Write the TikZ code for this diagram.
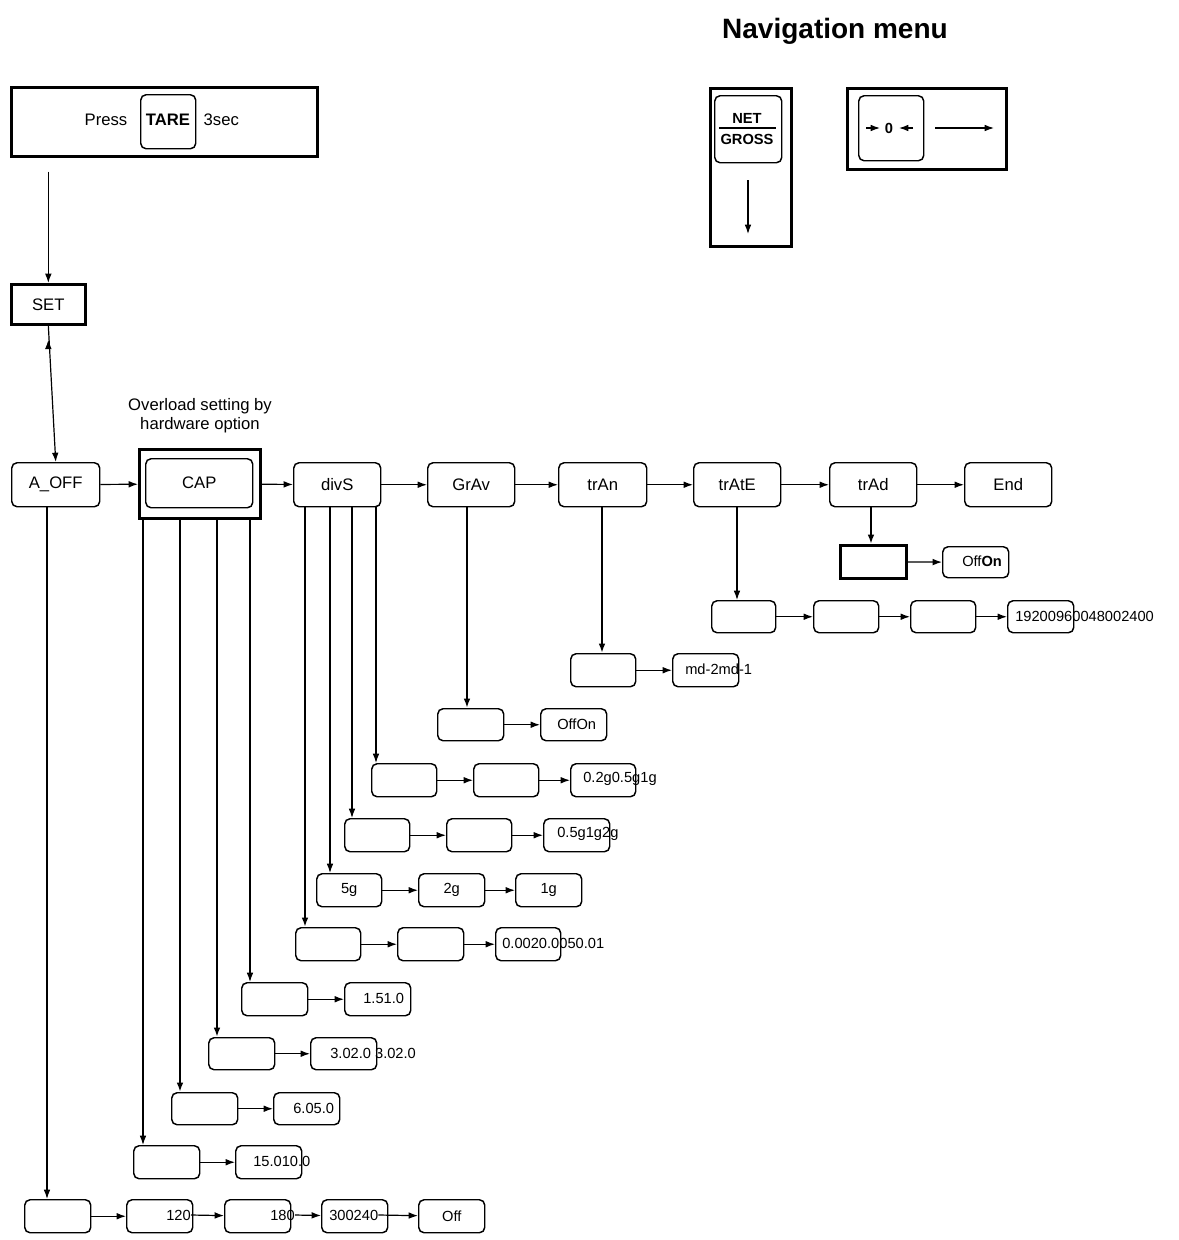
\documentclass[tikz,border=0pt]{standalone}
\usepackage{fontspec}
\setmainfont{Liberation Sans}
\usetikzlibrary{arrows.meta}
\begin{document}
\begin{tikzpicture}[x=0.75pt,y=-0.75pt,
  bx/.style={draw,rounded corners=4pt,line width=1.1pt,inner sep=0pt},
  tk/.style={draw,line width=2pt,inner sep=0pt},
  arr/.style={-{Latex[length=7pt,width=5pt]},line width=0.9pt},
  tarr/.style={-{Latex[length=7pt,width=5pt]},line width=1.6pt},
  lbl/.style={inner sep=0pt,font=\fontsize{11}{13}\selectfont},
  mtxt/.style={font=\fontsize{12.5}{14}\selectfont}]
\useasboundingbox (0,0) rectangle (1179,1240);
\newcommand\bx[6][bx]{\node[#1,minimum width={(#5-#3)*0.75pt},minimum height={(#6-#4)*0.75pt},anchor=north west] (#2) at (#3,#4) {};}
% header
\node[font=\bfseries\fontsize{21}{24}\selectfont] (nav) at (835,31) {Navigation menu};
\bx[tk]{press}{10}{86}{316}{155}
\node[mtxt,anchor=west] (presst) at (80,120) {Press};
\bx{tare}{140}{94}{195}{148}
\node[mtxt,font=\bfseries\fontsize{12.5}{14}\selectfont] (taret) at (168,120) {TARE};
\node[mtxt,anchor=west] (sec) at (199,120) {3sec};
\bx[tk]{set}{10}{283}{84}{323}
\node[mtxt] (sett) at (set) {SET};
\draw[arr] (press.south -| set) ++(0,14) coordinate (p0) -- (set.north);
\draw[arr] (set.south) ++(0,14) coordinate (s0);
% nav boxes
\bx[tk]{ng}{709}{87}{790}{245}
\bx{ngk}{714}{95}{781}{162}
\node[font=\bfseries\fontsize{11}{12}\selectfont] (net) at (747,118) {NET};
\node[font=\bfseries\fontsize{11}{12}\selectfont] (gross) at (747,139) {GROSS};
\draw[line width=1pt] (719,128) -- (776,128);
\coordinate (ng1) at (748,180); \coordinate (ng2) at (748,234);
\draw[arr] (ng1) -- (ng2);
\bx[tk]{zb}{846}{87}{1005}{168}
\bx{zk}{858}{95}{923}{160}
\node[font=\bfseries\fontsize{11}{12}\selectfont] (zero) at (889,128) {0};
\coordinate (za1) at (866,128); \coordinate (za2) at (880,128);
\coordinate (za3) at (913,128); \coordinate (za4) at (899,128);
\draw[arr] (za1) -- (za2); \draw[arr] (za3) -- (za4);
\coordinate (zr1) at (935,128); \coordinate (zr2) at (994,128);
\draw[arr] (zr1) -- (zr2);
% main row
\node[mtxt,align=center] (ov) at (200,416) {Overload setting by\\hardware option};
\bx{aoff}{11}{462}{99}{506}
\bx[tk]{capo}{138}{448}{259}{517}
\bx{cap}{145}{458}{252}{507}
\bx{divs}{293}{462}{380}{506}
\bx{grav}{427}{462}{514}{506}
\bx{tran}{558}{462}{646}{506}
\bx{trate}{693}{462}{780}{506}
\bx{trad}{829}{462}{916}{506}
\bx{end}{964}{462}{1051}{506}
\foreach \n/\t in {aoff/A\_OFF,cap/CAP,divs/divS,grav/GrAv,tran/trAn,trate/trAtE,trad/trAd,end/End}
  \node[mtxt] (\n t) at (\n) {\t};
\draw[arr] (set.south) -- (aoff.north);
\draw[arr] (aoff) -- (capo);
\draw[arr] (capo) -- (divs);
\draw[arr] (divs) -- (grav);
\draw[arr] (grav) -- (tran);
\draw[arr] (tran) -- (trate);
\draw[arr] (trate) -- (trad);
\draw[arr] (trad) -- (end);
% trAd
\bx[tk]{ad1}{839}{544}{905}{577}
\bx{ad2}{942}{546}{1008}{577}
\node[lbl,anchor=west] (ad2t) at (962,561) {Off\textbf{On}};
\draw[tarr] (trad.south -| 871,0) -- (ad1.north -| 871,0);
\draw[arr] (ad1) -- (ad2);
% trAtE
\bx{te1}{711}{600}{775}{632}
\bx{te2}{813}{600}{878}{632}
\bx{te3}{910}{600}{975}{632}
\bx{te4}{1007}{600}{1073}{632}
\node[lbl,anchor=west] (te4t) at (1015,616) {19200960048002400};
\draw[arr] (trate.south -| 737,0) -- (te1.north -| 737,0);
\draw[arr] (te1) -- (te2); \draw[arr] (te2) -- (te3); \draw[arr] (te3) -- (te4);
% trAn
\bx{ta1}{570}{653}{635}{686}
\bx{ta2}{672}{653}{738}{686}
\node[lbl,anchor=west] (ta2t) at (685,669) {md-2md-1};
\draw[tarr] (tran.south -| 602,0) -- (ta1.north -| 602,0);
\draw[arr] (ta1) -- (ta2);
% GrAv
\bx{g1}{437}{708}{503}{740}
\bx{g2}{540}{708}{606}{740}
\node[lbl,anchor=west] (g2t) at (557,724) {OffOn};
\draw[tarr] (grav.south -| 467,0) -- (g1.north -| 467,0);
\draw[arr] (g1) -- (g2);
% divS
\bx{d1a}{371}{763}{436}{796}\bx{d1b}{473}{763}{538}{796}\bx{d1c}{570}{763}{635}{796}
\node[lbl,anchor=west] (d1t) at (583,779) {0.2g0.5g1g};
\bx{d2a}{344}{818}{409}{851}\bx{d2b}{446}{818}{511}{851}\bx{d2c}{543}{818}{609}{851}
\node[lbl,anchor=west] (d2t) at (557,834) {0.5g1g2g};
\bx{d3a}{316}{873}{381}{906}\bx{d3b}{418}{873}{484}{906}\bx{d3c}{515}{873}{581}{906}
\node[lbl] (d3at) at (d3a) {5g};\node[lbl] (d3bt) at (d3b) {2g};\node[lbl] (d3ct) at (d3c) {1g};
\bx{d4a}{295}{927}{360}{960}\bx{d4b}{397}{927}{463}{960}\bx{d4c}{495}{927}{560}{960}
\node[lbl,anchor=west] (d4t) at (502,943) {0.0020.0050.01};
\draw[arr] (divs.south -| 376,0) -- (d1a.north -| 376,0);
\draw[arr] (divs.south -| 352,0) -- (d2a.north -| 352,0);
\draw[arr] (divs.south -| 330,0) -- (d3a.north -| 330,0);
\draw[tarr] (divs.south -| 305,0) -- (d4a.north -| 305,0);
\foreach \r in {1,2,3,4}{\draw[arr] (d\r a) -- (d\r b); \draw[arr] (d\r b) -- (d\r c);}
% CAP
\bx{c1a}{241}{982}{307}{1015}\bx{c1b}{344}{982}{410}{1015}
\node[lbl,anchor=west] (c1t) at (363,998) {1.51.0};
\bx{c2a}{208}{1037}{274}{1069}\bx{c2b}{310}{1037}{376}{1069}
\node[lbl,anchor=west] (c2t) at (330,1053) {3.02.0 3.02.0};
\bx{c3a}{171}{1092}{237}{1124}\bx{c3b}{273}{1092}{339}{1124}
\node[lbl,anchor=west] (c3t) at (293,1108) {6.05.0};
\bx{c4a}{133}{1145}{199}{1178}\bx{c4b}{235}{1145}{301}{1178}
\node[lbl,anchor=west] (c4t) at (253,1161) {15.010.0};
\draw[arr] (capo.south -| 250,0) -- (c1a.north -| 250,0);
\draw[tarr] (capo.south -| 217,0) -- (c2a.north -| 217,0);
\draw[tarr] (capo.south -| 180,0) -- (c3a.north -| 180,0);
\draw[arr] (capo.south -| 143,0) -- (c4a.north -| 143,0);
\foreach \r in {1,2,3,4}{\draw[arr] (c\r a) -- (c\r b);}
% A_OFF
\bx{a1}{24}{1199}{90}{1232}\bx{a2}{126}{1199}{192}{1232}\bx{a3}{224}{1199}{290}{1232}
\bx{a4}{321}{1199}{387}{1232}\bx{a5}{418}{1199}{484}{1232}
\node[lbl,anchor=west] (a2t) at (166,1215) {120};
\node[lbl,anchor=west] (a3t) at (270,1215) {180};
\node[lbl,anchor=west] (a4t) at (329,1215) {300240};
\node[lbl] (a5t) at (a5) {Off};
\draw[arr] (aoff.south -| 47,0) -- (a1.north -| 47,0);
\draw[arr] (a1) -- (a2);
\draw[arr] (a2t.east) -- (a3);
\draw[arr] (a3t.east) -- (a4);
\draw[arr] (a4t.east) -- (a5);
\end{tikzpicture}
\end{document}
